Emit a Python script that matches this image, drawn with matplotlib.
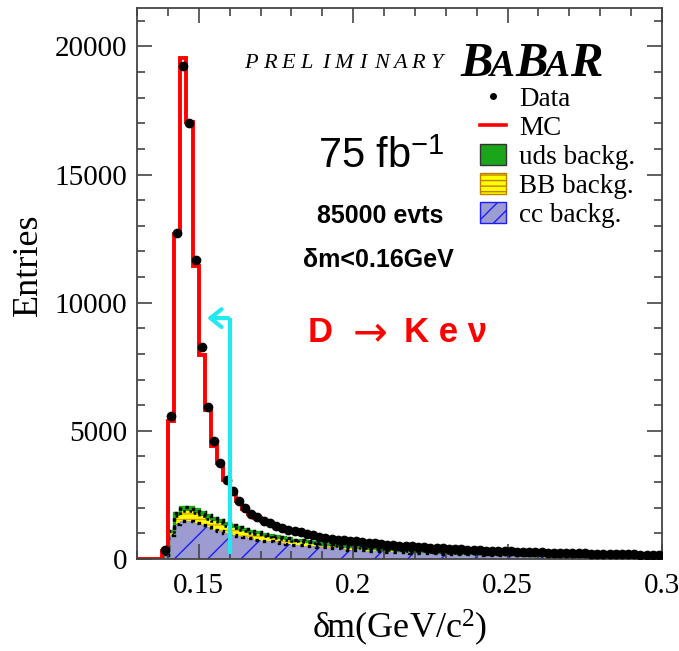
import numpy as np
import matplotlib
matplotlib.use('Agg')
import matplotlib.pyplot as plt
from matplotlib.lines import Line2D
from matplotlib.patches import Patch
from matplotlib.ticker import MultipleLocator, FixedLocator

plt.rcParams['mathtext.fontset'] = 'custom'
plt.rcParams['mathtext.rm'] = 'Liberation Serif'
plt.rcParams['mathtext.it'] = 'Liberation Serif:italic'
plt.rcParams['mathtext.sf'] = 'Liberation Sans'
plt.rcParams['hatch.linewidth'] = 1.0

# histogram binning in delta m (GeV/c^2): 85 bins of 2 MeV
bin_lo, bin_hi, n_bins = 0.130, 0.300, 85

data = [0, 0, 0, 0, 350,
        5570, 12720, 19250, 17010, 11680,
        8270, 5940, 4590, 3750, 3090,
        2640, 2280, 1980, 1760, 1630,
        1470, 1390, 1290, 1200, 1130,
        1080, 1040, 990, 920, 860,
        810, 780, 750, 730, 705,
        690, 660, 630, 620, 580,
        560, 560, 520, 510, 490,
        470, 460, 440, 430, 420,
        400, 390, 380, 360, 350,
        350, 330, 320, 310, 300,
        300, 290, 280, 270, 270,
        260, 250, 240, 240, 230,
        230, 220, 220, 210, 210,
        200, 200, 190, 190, 180,
        180, 170, 170, 160, 170]

mc = [0, 0, 0, 0, 300,
      5380, 12700, 19560, 17060, 11440,
      7950, 5830, 4420, 3750, 3100,
      2600, 2250, 1960, 1750, 1610,
      1480, 1380, 1290, 1210, 1140,
      1080, 1030, 980, 920, 870,
      820, 790, 750, 720, 700,
      680, 650, 630, 610, 590,
      560, 550, 520, 510, 490,
      470, 455, 440, 425, 415,
      400, 385, 375, 360, 350,
      345, 330, 320, 310, 300,
      295, 285, 280, 270, 265,
      255, 250, 240, 235, 230,
      225, 220, 215, 210, 205,
      200, 195, 190, 185, 180,
      178, 172, 168, 165, 162]

cc_bkg = [0, 0, 0, 0, 150,
          940, 1380, 1500, 1480, 1400,
          1320, 1230, 1150, 1080, 1010,
          950, 900, 850, 800, 760,
          720, 690, 650, 620, 590,
          560, 540, 520, 500, 470,
          450, 430, 410, 390, 370,
          350, 340, 330, 310, 300,
          290, 280, 270, 260, 250,
          240, 235, 225, 220, 210,
          205, 200, 195, 190, 185,
          180, 175, 170, 165, 160,
          155, 150, 148, 145, 140,
          138, 135, 130, 128, 125,
          120, 118, 115, 112, 110,
          108, 105, 102, 100, 98,
          95, 92, 90, 88, 85]

bb_bkg = [0, 0, 0, 0, 40,
          100, 300, 380, 400, 390,
          370, 350, 330, 310, 290,
          270, 250, 235, 220, 205,
          190, 180, 170, 160, 150,
          140, 130, 125, 120, 115,
          110, 105, 100, 95, 90,
          85, 82, 80, 77, 75,
          72, 70, 68, 65, 62,
          60, 58, 55, 52, 50,
          48, 46, 44, 42, 40,
          38, 36, 34, 32, 30,
          28, 26, 25, 24, 23,
          22, 21, 20, 19, 18,
          17, 16, 15, 14, 13,
          12, 11, 10, 10, 9,
          9, 8, 8, 7, 7]

uds_bkg = [0, 0, 0, 0, 20,
           40, 100, 150, 160, 150,
           140, 130, 120, 115, 110,
           105, 100, 95, 90, 85,
           80, 75, 70, 65, 60,
           55, 52, 50, 48, 46,
           44, 42, 40, 38, 36,
           34, 32, 30, 28, 26,
           25, 24, 23, 22, 21,
           20, 19, 18, 17, 16,
           15, 14, 13, 12, 11,
           10, 10, 9, 9, 8,
           8, 7, 7, 6, 6,
           5, 5, 5, 4, 4,
           4, 3, 3, 3, 3,
           2, 2, 2, 2, 2,
           1, 1, 1, 1, 1]

x_ticks = [0.15, 0.2, 0.25, 0.3]
x_ticklabels = ['0.15', '0.2', '0.25', '0.3']
y_ticks = [0, 5000, 10000, 15000, 20000]

cut_value = 0.16      # delta m cut
arrow_tip = 0.1527
arrow_height = 9400

C_CC = '#9c9cd0'
C_BB = '#ffff00'
C_UDS = '#1aa51a'
SERIF = 'Liberation Serif'
SANS = 'Liberation Sans'

W, H = 679, 651


def fx(px):
    return px / W


def fy(py):
    return 1 - py / H


edges = np.linspace(bin_lo, bin_hi, n_bins + 1)
centers = 0.5 * (edges[:-1] + edges[1:])
data = np.array(data, dtype=float)
mc = np.array(mc, dtype=float)
cc = np.array(cc_bkg, dtype=float)
bb = cc + np.array(bb_bkg)
tot = bb + np.array(uds_bkg)

fig = plt.figure(figsize=(W / 100, H / 100), dpi=100)
ax = fig.add_axes([fx(137), fy(559), (662 - 137) / W, (559 - 8) / H])

# stacked backgrounds
ax.stairs(cc, edges, baseline=0, fill=True, facecolor=C_CC, edgecolor='#1c1cff',
          hatch='/', linewidth=0)
ax.stairs(bb, edges, baseline=cc, fill=True, facecolor=C_BB, edgecolor='#e0a800',
          hatch='---', linewidth=0)
ax.stairs(tot, edges, baseline=bb, fill=True, facecolor=C_UDS, linewidth=0)
ax.stairs(tot, edges, baseline=None, color=C_UDS, lw=2.4)
ax.stairs(tot, edges, baseline=None, color='k', lw=2.4, ls=(0, (1, 1.5)))
ax.stairs(bb, edges, baseline=None, color='k', lw=1.8, ls=(0, (1, 1.5)))
ax.stairs(cc, edges, baseline=None, color='k', lw=2.4, ls=(0, (1, 1.5)))

# MC
ax.stairs(mc, edges, baseline=None, color='red', lw=2.8)

# data
m = data > 0
ax.errorbar(centers[m], data[m], yerr=np.sqrt(data[m]), xerr=0.001, fmt='o',
            color='k', ms=6, lw=2.8, capsize=0, zorder=5)

# cut arrow
ax.plot([cut_value, cut_value], [200, arrow_height], color='#22e8f0', lw=3,
        solid_capstyle='butt', zorder=6)
ax.annotate('', xy=(arrow_tip, arrow_height), xytext=(cut_value - 0.0004, arrow_height),
            arrowprops=dict(arrowstyle='->, head_length=0.5, head_width=0.4',
                            color='#22e8f0', lw=3, mutation_scale=16,
                            shrinkA=0, shrinkB=0), zorder=6)

ax.set_xlim(bin_lo, bin_hi)
ax.set_ylim(0, 21500)
ax.xaxis.set_major_locator(FixedLocator(x_ticks))
ax.set_xticklabels(x_ticklabels)
ax.xaxis.set_minor_locator(MultipleLocator(0.01))
ax.yaxis.set_major_locator(FixedLocator(y_ticks))
ax.yaxis.set_minor_locator(MultipleLocator(1000))
ax.tick_params(which='both', direction='in', top=True, right=True, color='#444444',
               width=1.2, labelsize=21)
ax.tick_params(which='major', length=11)
ax.tick_params(which='minor', length=5.5)
ax.tick_params(axis='x', pad=10)
ax.tick_params(axis='y', pad=7)
for lab in ax.get_xticklabels() + ax.get_yticklabels():
    lab.set_family(SERIF)
for s in ax.spines.values():
    s.set_color('#444444')
    s.set_linewidth(1.3)

fig.text(fx(28), fy(265), 'Entries', rotation=90, ha='center', va='center',
         family=SERIF, fontsize=26)
fig.text(fx(400), fy(628), r'$\mathrm{\delta m(GeV/c^{2})}$', ha='center', va='center',
         fontsize=26)

# PRELIMINARY, letter-spaced
for i, ch in enumerate('PRELIMINARY'):
    fig.text(fx(251 + i * 18.6), fy(68), ch, ha='center', va='baseline',
             family=SERIF, style='italic', fontsize=16)

# BABAR logo
for ch, px, fs in [('B', 460, 35), ('A', 490, 27), ('B', 515, 35), ('A', 545, 27), ('R', 570, 35)]:
    fig.text(fx(px), fy(76), ch, ha='left', va='baseline', family=SERIF,
             weight='bold', style='italic', fontsize=fs)

fig.text(fx(381), fy(168), r'75 fb$^{\mathsf{-1}}$', ha='center', va='baseline',
         family=SANS, fontsize=30)
fig.text(fx(380), fy(216), '85000 evts', ha='center', va='center', family=SANS,
         weight='bold', fontsize=18)
fig.text(fx(378), fy(260), 'δm<0.16GeV', ha='center', va='center', family=SANS,
         weight='bold', fontsize=18)

# D -> K e nu, arrow drawn in a thinner font like the original
fig.text(fx(308), fy(333), 'D', ha='left', va='center', color='red',
         family=SANS, weight='bold', fontsize=25)
fig.text(fx(370), fy(333), '→', ha='center', va='center', color='red',
         family='DejaVu Sans', fontsize=30)
fig.text(fx(404), fy(333), 'K e ν', ha='left', va='center', color='red',
         family=SANS, weight='bold', fontsize=25)

handles = [Line2D([], [], marker='o', color='k', ls='none', ms=4),
           Line2D([], [], color='red', lw=2.6),
           Patch(facecolor=C_UDS, edgecolor='#333333'),
           Patch(facecolor=C_BB, edgecolor='#c08000', hatch='---'),
           Patch(facecolor=C_CC, edgecolor='#1c1cff', hatch='//')]
labels = ['Data', 'MC', 'uds backg.', 'BB backg.', 'cc backg.']
leg = fig.legend(handles, labels, loc='upper left', bbox_to_anchor=(fx(480), fy(86)),
                 frameon=False, prop={'family': SERIF, 'size': 19.5}, handlelength=0.95,
                 handleheight=0.85, labelspacing=0.1, handletextpad=0.5,
                 borderpad=0, borderaxespad=0)

fig.savefig('out.png', dpi=100)
